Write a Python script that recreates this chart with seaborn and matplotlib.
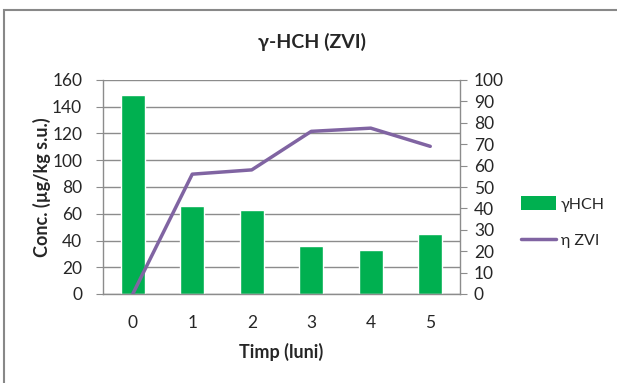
import pandas as pd
import seaborn as sns
import matplotlib.pyplot as plt
from matplotlib.lines import Line2D
from matplotlib.patches import Patch, Rectangle

# data
months = [0, 1, 2, 3, 4, 5]
hch_conc = [149, 66, 63, 36, 33, 45]
eta_zvi = [0, 56, 58, 76, 77.5, 69]

green = "#00B050"
purple = "#8064A2"
grid_col = "#8C8C8C"

sns.set_style("white")
plt.rcParams["font.family"] = ["Lato", "DejaVu Sans"]

df = pd.DataFrame({"month": months, "hch": hch_conc, "eta": eta_zvi})

fig = plt.figure(figsize=(6.17, 3.83), dpi=100)
ax = fig.add_axes([103 / 617, 1 - 294 / 383, (460 - 103) / 617, (294 - 80) / 383])

# bars (left axis)
sns.barplot(
    data=df,
    x="month",
    y="hch",
    color=green,
    saturation=1,
    width=0.4,
    ax=ax
)

ax.set_ylim(0, 160)
ax.set_yticks(range(0, 161, 20))
ax.set_xlim(-0.5, 5.5)
ax.yaxis.grid(True, color=grid_col, linewidth=1)
ax.set_axisbelow(True)

# line (right axis)
ax2 = ax.twinx()
sns.lineplot(
    data=df,
    x="month",
    y="eta",
    color=purple,
    linewidth=2.5,
    ax=ax2
)
ax2.set_ylim(0, 100)
ax2.set_yticks(range(0, 101, 10))
ax2.set_xlim(-0.5, 5.5)
ax2.set_ylabel("")

for a in (ax, ax2):
    a.spines["top"].set_visible(False)
    for side in ("left", "right", "bottom"):
        a.spines[side].set_color(grid_col)
        a.spines[side].set_linewidth(1)

ax.spines["right"].set_visible(False)
ax2.spines["left"].set_visible(False)
ax2.spines["bottom"].set_visible(False)

ax.tick_params(axis="y", length=5, color=grid_col, labelsize=12.5, pad=10, left=True)
ax.tick_params(axis="x", length=0, labelsize=12.5, pad=15)
ax2.tick_params(axis="y", length=5, color=grid_col, labelsize=12.5, pad=5, right=True)

ax.set_xlabel("Timp (luni)", fontsize=13, fontweight="bold", labelpad=9)
ax.set_ylabel("Conc. (µg/kg s.u.)", fontsize=13, fontweight="bold", labelpad=1)

fig.text(312 / 617, 1 - 42 / 383, "γ-HCH (ZVI)", ha="center", va="center",
         fontsize=14, fontweight="bold")

# legend
handles = [
    Patch(facecolor=green, edgecolor="none"),
    Line2D([0], [0], color=purple, linewidth=2.5),
]
fig.legend(
    handles,
    ["γHCH", "η ZVI"],
    loc="center left",
    bbox_to_anchor=(521 / 617, 1 - 222 / 383),
    frameon=False,
    borderpad=0,
    borderaxespad=0,
    fontsize=11.5,
    handlelength=2.2,
    handleheight=1.0,
    handletextpad=0.3,
    labelspacing=1.3
)

# outer chart border
fig.patches.append(Rectangle((4 / 617, -0.05), 1.1, 1 - 10 / 383 + 0.05,
                             transform=fig.transFigure, fill=False,
                             edgecolor="#888888", linewidth=1.5))

fig.savefig("out.png", dpi=100)
